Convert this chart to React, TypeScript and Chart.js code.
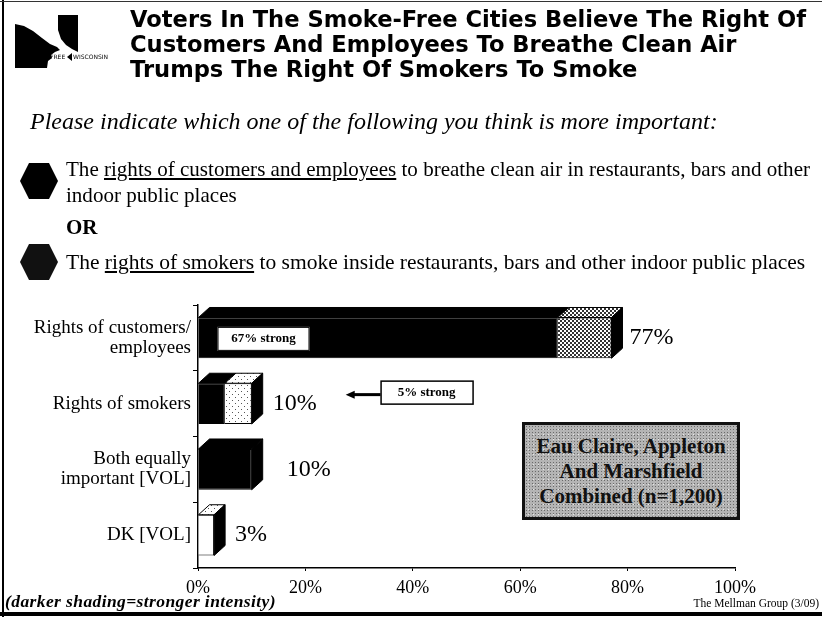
import React, { useEffect, useRef } from "react";
import { Chart, registerables } from "chart.js";

Chart.register(...registerables);

// ---------- data ----------
const categories: (string | string[])[] = [
  ["Rights of customers/", "employees"],
  "Rights of smokers",
  ["Both equally", "important [VOL]"],
  "DK [VOL]",
];
const strongValues = [67, 5, 10, 0];
const otherValues = [10, 5, 0, 3];
const totalLabels = ["77%", "10%", "10%", "3%"];
const xTickValues = [0, 20, 40, 60, 80, 100];

// ---------- style ----------
const SERIF = "'Liberation Serif', 'Times New Roman', serif";
const DEPTH_X = 11;
const DEPTH_Y = 10;
const labelOffsets = [7, 10, 24, 10];

function makePattern(
  ctx: CanvasRenderingContext2D,
  size: number,
  dots: number[][],
  bg: string,
  fg: string
): CanvasPattern {
  const c = document.createElement("canvas");
  c.width = size;
  c.height = size;
  const g = c.getContext("2d")!;
  g.fillStyle = bg;
  g.fillRect(0, 0, size, size);
  g.fillStyle = fg;
  dots.forEach(([x, y, s]) => g.fillRect(x, y, s, s));
  return ctx.createPattern(c, "repeat")!;
}

export default function App() {
  const canvasRef = useRef<HTMLCanvasElement | null>(null);

  useEffect(() => {
    const canvas = canvasRef.current!;
    const ctx = canvas.getContext("2d")!;
    const dense = makePattern(ctx, 4, [[0, 0, 2], [2, 2, 2]], "#ffffff", "#333333");
    const sparse = makePattern(ctx, 6, [[1, 1, 1], [4, 4, 1]], "#ffffff", "#555555");

    const otherFront: (string | CanvasPattern)[] = [dense, sparse, "#ffffff", "#ffffff"];
    const otherTop: (string | CanvasPattern)[] = [dense, sparse, "#ffffff", sparse];

    const depthPlugin = {
      id: "depth3d",
      afterDatasetsDraw(chart: any) {
        const c: CanvasRenderingContext2D = chart.ctx;
        const metas = [chart.getDatasetMeta(0), chart.getDatasetMeta(1)];
        const xScale = chart.scales.x;
        c.save();
        for (let i = 0; i < categories.length; i++) {
          let end: number | null = null;
          let top = 0;
          let bottom = 0;
          let cy = 0;
          metas.forEach((meta: any, di: number) => {
            const value = chart.data.datasets[di].data[i];
            if (!value) return;
            const p = meta.data[i].getProps(["x", "y", "base", "height"], true);
            const t = p.y - p.height / 2;
            const b = p.y + p.height / 2;
            const x0 = Math.min(p.base, p.x);
            const x1 = Math.max(p.base, p.x);
            c.beginPath();
            c.moveTo(x0, t);
            c.lineTo(x0 + DEPTH_X, t - DEPTH_Y);
            c.lineTo(x1 + DEPTH_X, t - DEPTH_Y);
            c.lineTo(x1, t);
            c.closePath();
            c.fillStyle = di === 0 ? "#000000" : (otherTop[i] as any);
            c.fill();
            c.lineWidth = 1;
            c.strokeStyle = "#000000";
            c.stroke();
            end = x1;
            top = t;
            bottom = b;
            cy = p.y;
          });
          if (end !== null) {
            const e = end as number;
            c.beginPath();
            c.moveTo(e, top);
            c.lineTo(e + DEPTH_X, top - DEPTH_Y);
            c.lineTo(e + DEPTH_X, bottom - DEPTH_Y);
            c.lineTo(e, bottom);
            c.closePath();
            c.fillStyle = "#000000";
            c.fill();
            c.stroke();
            c.fillStyle = "#000000";
            c.font = `24px ${SERIF}`;
            c.textAlign = "left";
            c.textBaseline = "middle";
            c.fillText(totalLabels[i], e + DEPTH_X + labelOffsets[i], cy);
          }
        }

        // "67% strong" label inside first bar
        const b0 = metas[0].data[0].getProps(["x", "y", "base", "height"], true);
        const bx = b0.base + 19;
        const by = b0.y - 11;
        c.fillStyle = "#ffffff";
        c.fillRect(bx, by, 92, 24);
        c.strokeStyle = "#000000";
        c.lineWidth = 1;
        c.strokeRect(bx + 0.5, by + 0.5, 91, 23);
        c.fillStyle = "#000000";
        c.font = `bold 13px ${SERIF}`;
        c.textAlign = "center";
        c.textBaseline = "middle";
        c.fillText("67% strong", bx + 46, by + 12);

        // "5% strong" label with arrow, beside second bar
        const b1 = metas[0].data[1].getProps(["x", "y", "base", "height"], true);
        const lx = xScale.getPixelForValue(34);
        const ly = b1.y - 23;
        c.fillStyle = "#ffffff";
        c.fillRect(lx, ly, 93, 24);
        c.lineWidth = 1.5;
        c.strokeRect(lx + 0.5, ly + 0.5, 92, 23);
        c.fillStyle = "#000000";
        c.fillText("5% strong", lx + 46, ly + 12);
        const ay = ly + 14;
        const tip = xScale.getPixelForValue(27.5);
        c.lineWidth = 3;
        c.beginPath();
        c.moveTo(lx, ay);
        c.lineTo(tip + 6, ay);
        c.stroke();
        c.beginPath();
        c.moveTo(tip, ay);
        c.lineTo(tip + 9, ay - 4);
        c.lineTo(tip + 9, ay + 4);
        c.closePath();
        c.fill();
        c.restore();
      },
    };

    const chart = new Chart(canvas, {
      type: "bar",
      data: {
        labels: categories as any,
        datasets: [
          {
            label: "Strong",
            data: strongValues,
            backgroundColor: "#000000",
            borderColor: "#000000",
            borderWidth: 1,
            categoryPercentage: 1,
            barPercentage: 0.62,
          },
          {
            label: "Not strong",
            data: otherValues,
            backgroundColor: otherFront as any,
            borderColor: "#000000",
            borderWidth: 1,
            categoryPercentage: 1,
            barPercentage: 0.62,
          },
        ],
      },
      options: {
        indexAxis: "y",
        animation: false,
        responsive: false,
        layout: { padding: { left: 0, top: 305, right: 87, bottom: 0 } },
        plugins: {
          legend: { display: false },
          tooltip: { enabled: false },
        },
        scales: {
          x: {
            stacked: true,
            min: 0,
            max: 100,
            afterBuildTicks: (s: any) => {
              s.ticks = xTickValues.map((v) => ({ value: v }));
            },
            afterFit: (s: any) => {
              s.height = 49;
            },
            ticks: {
              callback: (v: any) => `${v}%`,
              color: "#000000",
              font: { family: SERIF, size: 18 },
              padding: 6,
              maxRotation: 0,
            },
            grid: {
              drawOnChartArea: false,
              drawTicks: true,
              tickLength: 3,
              color: "#000000",
            },
            border: { display: true, color: "#000000", width: 1.5 },
          },
          y: {
            stacked: true,
            afterFit: (s: any) => {
              s.width = 198;
            },
            ticks: {
              color: "#000000",
              font: { family: SERIF, size: 19, lineHeight: 1.05 },
              padding: 2,
            },
            grid: {
              offset: true,
              drawOnChartArea: false,
              drawTicks: true,
              tickLength: 5,
              color: "#000000",
            },
            border: { display: true, color: "#000000", width: 1.5 },
          },
        },
      },
      plugins: [depthPlugin],
    });
    return () => chart.destroy();
  }, []);

  const abs = (s: React.CSSProperties): React.CSSProperties => ({ position: "absolute", margin: 0, ...s });

  return (
    <div
      style={{
        position: "fixed",
        left: 0,
        top: 0,
        width: 822,
        height: 617,
        background: "#ffffff",
        overflow: "hidden",
        fontFamily: SERIF,
        color: "#000",
      }}
    >
      <canvas ref={canvasRef} width={822} height={617} style={{ position: "absolute", left: 0, top: 0 }} />

      {/* frame */}
      <div style={abs({ left: 2, top: 0, width: 2, height: 617, background: "#000" })} />
      <div style={abs({ left: 0, top: 1, width: 822, height: 1, background: "#333" })} />
      <div style={abs({ left: 0, top: 612, width: 822, height: 4, background: "#000" })} />

      {/* logo */}
      <svg style={abs({ left: 0, top: 0 })} width={125} height={90}>
        <polygon
          points="15,24 24,26 33,31 42,38 50,44 57,47 60,50 55,52 51,55 52,58 48,61 47,68 15,68"
          fill="#000"
        />
        <polygon points="58,15 78,15 78,52 72,49 66,45 61,39 58,30" fill="#000" />
        <text x={50} y={59} fontSize={6} fontFamily="DejaVu Sans" fill="#000">
          FREE
        </text>
        <polygon points="67,57 72,53 72,61" fill="#000" />
        <text x={73} y={59} fontSize={6} fontFamily="DejaVu Sans" fill="#000">
          WISCONSIN
        </text>
      </svg>

      {/* title */}
      <div
        style={abs({
          left: 130,
          top: 7,
          fontFamily: "'DejaVu Sans', sans-serif",
          fontWeight: "bold",
          fontSize: 22.6,
          lineHeight: "25px",
          whiteSpace: "nowrap",
        })}
      >
        Voters In The Smoke-Free Cities Believe The Right Of
        <br />
        Customers And Employees To Breathe Clean Air
        <br />
        Trumps The Right Of Smokers To Smoke
      </div>

      {/* question */}
      <div style={abs({ left: 30, top: 108, fontStyle: "italic", fontSize: 24, lineHeight: "27px", whiteSpace: "nowrap" })}>
        Please indicate which one of the following you think is more important:
      </div>

      <svg style={abs({ left: 0, top: 150 })} width={66} height={140}>
        <polygon points="20,31 29,13 49,13 58,31 49,49 29,49" fill="#000" />
        <polygon points="20,112 29,94 49,94 58,112 49,130 29,130" fill="#111" />
      </svg>

      <div style={abs({ left: 66, top: 156, fontSize: 21.05, lineHeight: "26px", whiteSpace: "nowrap" })}>
        The <span style={{ textDecoration: "underline" }}>rights of customers and employees</span> to breathe clean air in
        restaurants, bars and other
        <br />
        indoor public places
      </div>
      <div style={abs({ left: 66, top: 214, fontSize: 21, fontWeight: "bold", lineHeight: "26px" })}>OR</div>
      <div style={abs({ left: 66, top: 249, fontSize: 21.5, lineHeight: "26px", whiteSpace: "nowrap" })}>
        The <span style={{ textDecoration: "underline" }}>rights of smokers</span> to smoke inside restaurants, bars and
        other indoor public places
      </div>

      {/* info box */}
      <div
        style={abs({
          left: 522,
          top: 422,
          width: 212,
          height: 92,
          border: "3px solid #111",
          backgroundColor: "#b4b4b4",
          backgroundImage:
            "radial-gradient(#6a6a6a 0.7px, transparent 1px), radial-gradient(#e8e8e8 0.7px, transparent 1px)",
          backgroundSize: "3px 3px, 5px 5px",
          backgroundPosition: "0 0, 1px 2px",
          display: "flex",
          flexDirection: "column",
          justifyContent: "center",
          alignItems: "center",
          fontWeight: "bold",
          fontSize: 21,
          lineHeight: "25px",
          color: "#111",
          whiteSpace: "nowrap",
        })}
      >
        <div>Eau Claire, Appleton</div>
        <div>And Marshfield</div>
        <div>Combined (n=1,200)</div>
      </div>

      {/* footer */}
      <div
        style={abs({
          left: 5,
          top: 593,
          fontSize: 17.5,
          fontWeight: "bold",
          fontStyle: "italic",
          lineHeight: "17px",
          letterSpacing: "0.4px",
          whiteSpace: "nowrap",
        })}
      >
        (darker shading=stronger intensity)
      </div>
      <div style={abs({ right: 3, top: 596, fontSize: 11.5, lineHeight: "14px", whiteSpace: "nowrap" })}>
        The Mellman Group (3/09)
      </div>
    </div>
  );
}
